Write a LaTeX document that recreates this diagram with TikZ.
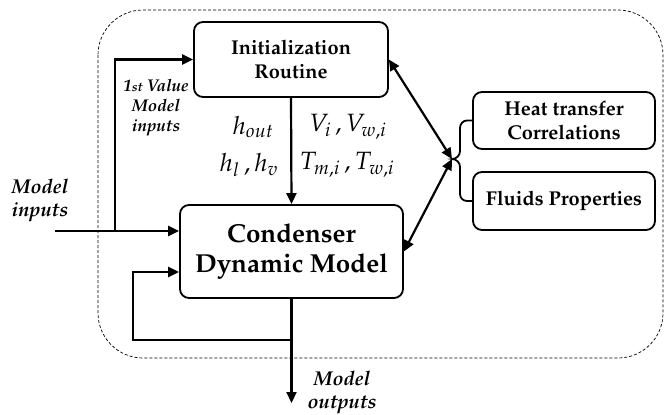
\documentclass[tikz,border=0pt]{standalone}
\usepackage[T1]{fontenc}
\usepackage{mathpazo}
\usetikzlibrary{arrows.meta}
\begin{document}
\begin{tikzpicture}[x=1pt,y=-1pt,
  box/.style={draw, line width=1.8pt, rounded corners=9pt, align=center, inner sep=0pt},
  conn/.style={line width=2.2pt, -{Triangle[length=11pt,width=10pt]}},
  dconn/.style={line width=2.2pt, {Triangle[length=11pt,width=10pt]}-{Triangle[length=11pt,width=10pt]}},
  lbl/.style={align=center, font=\fontsize{20}{23}\selectfont\bfseries\itshape, inner sep=0pt},
  mth/.style={font=\fontsize{25}{27}\selectfont, inner sep=0pt},
  bracestyle/.style={line width=1.8pt}
]
\useasboundingbox (0,0) rectangle (664,415);
\draw[dashed, line width=0.7pt, dash pattern=on 3pt off 2pt, rounded corners=45pt] (98,10) rectangle (663,358);

\node[box, minimum width=194pt, minimum height=75pt, font=\fontsize{20}{24}\selectfont\bfseries] (init) at (291,59.5) {Initialization\\Routine};
\node[box, minimum width=223pt, minimum height=93pt, font=\fontsize{26}{30}\selectfont\bfseries] (cond) at (291.5,251.5) {Condenser\\Dynamic Model};
\node[box, minimum width=182pt, minimum height=57pt, font=\fontsize{20}{24}\selectfont\bfseries] (heat) at (564,120.5) {Heat transfer\\Correlations};
\node[box, minimum width=182pt, minimum height=58pt, font=\fontsize{20}{24}\selectfont\bfseries] (fluids) at (564,201) {Fluids Properties};

% vertical init -> condenser
\draw[conn] (init.south) -- (cond.north);

% model inputs
\coordinate (in) at (55,231);
\coordinate (br) at (115,231);
\draw[conn] (in) -- (in -| cond.west);
\draw[conn] (br) |- (init.west);

% feedback and output
\coordinate (fb) at (cond.south |- 0,340);
\coordinate (fbl) at (133,340);
\coordinate (fbt) at (133,272);
\coordinate (out) at (cond.south |- 0,403);
\draw[conn] (cond.south) -- (out);
\draw[conn] (fb) -- (fbl) -- (fbt) -- (fbt -| cond.west);

% brace
\coordinate (tip) at (452,159);
\draw[bracestyle] (heat.west) -- (467,120.5) to[out=180,in=90] (460,128) -- (460,151) to[out=-90,in=0] (tip)
  to[out=0,in=90] (460,167) -- (460,194) to[out=-90,in=180] (467,201) -- (fluids.west);

\draw[dconn] (init.east) -- (tip);
\draw[dconn] (tip) -- (cond.east);

% labels
\node[lbl] (lin) at (40,201) {Model\\inputs};
\node[lbl, font=\fontsize{17}{20}\selectfont\bfseries\itshape] (lfirst) at (156,108) {1{\fontsize{13}{14}\selectfont st} Value\\Model\\inputs};
\node[lbl] (lout) at (342,393) {Model\\outputs};
\node[mth] (hout) at (253,127) {$h_{out}$};
\node[mth] (hlv) at (249,165) {$h_l\,,h_v$};
\node[mth] (vv) at (348,127) {$V_i\,,V_{w,i}$};
\node[mth] (tt) at (347,165) {$T_{m,i}\,,T_{w,i}$};
\end{tikzpicture}
\end{document}
